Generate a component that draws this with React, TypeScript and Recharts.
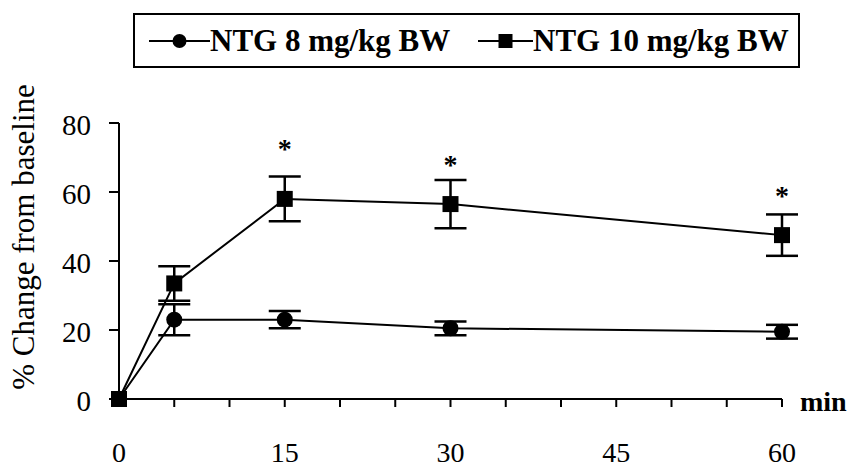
import React from 'react'
import {
  ComposedChart, Line, Scatter, ErrorBar, XAxis, YAxis,
} from 'recharts'

// minutes after NTG
const times = [0, 5, 15, 30, 60]
const ntg8 = [0, 23, 23, 20.5, 19.5]
const ntg8Err = [0, 4.5, 2.5, 2, 2]
const ntg10 = [0, 33.5, 58, 56.5, 47.5]
const ntg10Err = [0, 5, 6.5, 7, 6]

// significance marks (*)
const starTimes = [15, 30, 60]
const starValues = [73.5, 69, 60]

const xTicks = [0, 5, 10, 15, 20, 25, 30, 35, 40, 45, 50, 55, 60]
const xLabels = [0, 15, 30, 45, 60]
const yTicks = [0, 20, 40, 60, 80]

const SERIES = [
  { key: 'ntg8', err: 'ntg8Err', label: 'NTG 8 mg/kg BW', marker: 'circle' },
  { key: 'ntg10', err: 'ntg10Err', label: 'NTG 10 mg/kg BW', marker: 'square' },
] as const

const FONT = '"Liberation Serif", "Times New Roman", serif'

const rows = times.map((t, i) => ({
  t, ntg8: ntg8[i], ntg8Err: ntg8Err[i], ntg10: ntg10[i], ntg10Err: ntg10Err[i],
}))
const stars = starTimes.map((t, i) => ({ t, v: starValues[i] }))

function SquareDot({ cx, cy }: any) {
  if (cx == null || cy == null) return null
  return <rect x={cx - 8} y={cy - 8} width={16} height={16} fill="#000" />
}

function CircleDot({ cx, cy }: any) {
  if (cx == null || cy == null) return null
  return <circle cx={cx} cy={cy} r={8} fill="#000" />
}

function Star({ cx, cy }: any) {
  return <text x={cx} y={cy + 13} textAnchor="middle" fontFamily={FONT} fontWeight="bold" fontSize={28} fill="#000">*</text>
}

function XTick({ x, y, payload }: any) {
  if (!xLabels.includes(payload.value)) return null
  return <text x={x} y={y + 55} textAnchor="middle" fontFamily={FONT} fontSize={28} fill="#000">{payload.value}</text>
}

function YTick({ x, y, payload }: any) {
  return <text x={x} y={y + 12} textAnchor="end" fontFamily={FONT} fontSize={29} fill="#000">{payload.value}</text>
}

function YTitle({ viewBox }: any) {
  const x = viewBox.x - 25
  const y = viewBox.y + viewBox.height / 2 - 24
  return (
    <text x={x} y={y} transform={`rotate(-90, ${x}, ${y})`} textAnchor="middle" fontFamily={FONT} fontSize={31} fill="#000">
      % Change from baseline
    </text>
  )
}

function XUnit({ viewBox }: any) {
  return (
    <text x={viewBox.x + viewBox.width + 18} y={viewBox.y + 12} fontFamily={FONT} fontWeight="bold" fontSize={28} fill="#000">min</text>
  )
}

function LegendBox() {
  const pos = [{ line: 149, text: 210 }, { line: 478, text: 533 }]
  return (
    <div style={{
      position: 'absolute', left: 133, top: 13, width: 667, height: 55, boxSizing: 'border-box',
      border: '2px solid #000', fontFamily: FONT, fontWeight: 'bold', fontSize: 31, color: '#000',
    }}>
      {SERIES.map((s, i) => (
        <div key={s.key} style={{ position: 'absolute', left: pos[i].line - 135, top: 0, height: 51, display: 'flex', alignItems: 'center' }}>
          <svg width={pos[i].text - pos[i].line} height={20} style={{ display: 'block' }}>
            <line x1={0} y1={10} x2={pos[i].text - pos[i].line} y2={10} stroke="#000" strokeWidth={2} />
            {s.marker === 'circle'
              ? <circle cx={(pos[i].text - pos[i].line) / 2} cy={10} r={7} fill="#000" />
              : <rect x={(pos[i].text - pos[i].line) / 2 - 7} y={3} width={14} height={14} fill="#000" />}
          </svg>
          <span style={{ whiteSpace: 'nowrap', lineHeight: 1 }}>{s.label}</span>
        </div>
      ))}
    </div>
  )
}

export default function App() {
  return (
    <div style={{ position: 'absolute', left: 0, top: 0, width: 852, height: 470, background: '#fff' }}>
      <ComposedChart width={852} height={470} data={rows} margin={{ top: 123, right: 70, bottom: 11, left: 59 }}>
        <XAxis
          type="number" dataKey="t" domain={[0, 60]} ticks={xTicks} interval={0}
          axisLine={{ stroke: '#000', strokeWidth: 2 }} tickLine={{ stroke: '#000', strokeWidth: 2 }}
          tickSize={8} tickMargin={0} height={60} tick={XTick} label={<XUnit />}
        />
        <YAxis
          type="number" domain={[0, 80]} ticks={yTicks} interval={0} width={60}
          axisLine={{ stroke: '#000', strokeWidth: 2 }} tickLine={{ stroke: '#000', strokeWidth: 2 }}
          tickSize={10} tickMargin={18} tick={YTick} label={<YTitle />}
        />
        <Line dataKey="ntg8" type="linear" stroke="#000" strokeWidth={2} dot={<CircleDot />} activeDot={false} isAnimationActive={false}>
          <ErrorBar dataKey="ntg8Err" width={16} stroke="#000" strokeWidth={2.5} isAnimationActive={false} />
        </Line>
        <Line dataKey="ntg10" type="linear" stroke="#000" strokeWidth={2} dot={<SquareDot />} activeDot={false} isAnimationActive={false}>
          <ErrorBar dataKey="ntg10Err" width={16} stroke="#000" strokeWidth={2.5} isAnimationActive={false} />
        </Line>
        <Scatter data={stars} dataKey="v" shape={<Star />} isAnimationActive={false} />
      </ComposedChart>
      <LegendBox />
    </div>
  )
}
